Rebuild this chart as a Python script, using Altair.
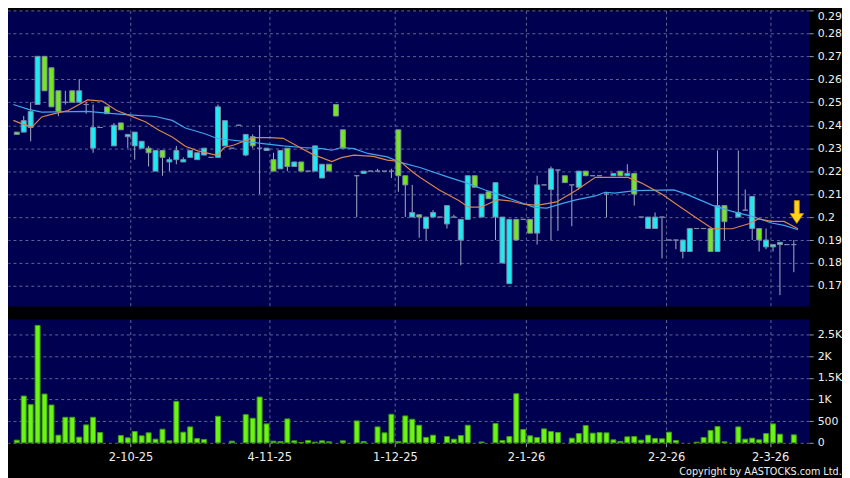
import altair as alt
import pandas as pd

# ---------------- data ----------------
opens = [0.237, 0.237, 0.239, 0.249, 0.270, 0.265, 0.255, 0.250, 0.255, 0.250,
         0.249, 0.230, 0.239, 0.248, 0.231, 0.241, 0.235, 0.231, 0.230, 0.230,
         0.220, 0.229, 0.224, 0.225, 0.224, 0.226, 0.225, 0.227, 0.226, 0.226,
         0.231, 0.230, 0.240, 0.227, 0.235, 0.230, 0.229, 0.225, 0.221, 0.230,
         0.222, 0.224, 0.220, 0.220, 0.217, 0.223, 0.249, 0.238, None, 0.218,
         0.219, 0.220, 0.220, 0.220, 0.220, 0.238, 0.218, 0.200, 0.201, 0.195,
         0.200, 0.200, 0.197, 0.200, 0.190, 0.199, 0.218, 0.200, 0.211, 0.200,
         0.180, 0.171, 0.199, 0.199, 0.199, 0.193, 0.214, 0.212, 0.2205, 0.218,
         0.214, 0.213, 0.220, 0.218, 0.218, 0.210, 0.218, 0.220, 0.218, 0.219,
         0.200, 0.195, 0.195, 0.200, 0.190, 0.190, 0.185, 0.185, 0.195, 0.195,
         0.195, 0.185, 0.205, None, 0.200, 0.203, 0.195, 0.195, 0.187, 0.187,
         0.188, 0.188, 0.188]
highs = [0.237, 0.244, 0.250, 0.270, 0.270, 0.265, 0.255, 0.255, 0.255, 0.260,
         0.250, 0.249, 0.239, 0.248, 0.241, 0.241, 0.236, 0.237, 0.233, 0.231,
         0.229, 0.229, 0.226, 0.231, 0.226, 0.229, 0.228, 0.230, 0.226, 0.249,
         0.242, 0.230, 0.240, 0.236, 0.236, 0.240, 0.230, 0.228, 0.229, 0.230,
         0.224, 0.224, 0.220, 0.231, 0.223, 0.223, 0.249, 0.238, None, 0.218,
         0.220, 0.220, 0.221, 0.220, 0.221, 0.238, 0.218, 0.214, 0.201, 0.200,
         0.203, 0.200, 0.205, 0.201, 0.199, 0.218, 0.218, 0.210, 0.211, 0.215,
         0.200, 0.199, 0.199, 0.199, 0.199, 0.218, 0.214, 0.222, 0.2205, 0.218,
         0.214, 0.220, 0.220, 0.218, 0.218, 0.211, 0.219, 0.220, 0.223, 0.219,
         0.200, 0.200, 0.202, 0.200, 0.190, 0.190, 0.190, 0.195, 0.195, 0.195,
         0.195, 0.229, 0.205, None, 0.229, 0.212, 0.209, 0.195, 0.195, 0.188,
         0.189, 0.188, 0.190]
lows = [0.236, 0.237, 0.233, 0.249, 0.255, 0.248, 0.244, 0.249, 0.250, 0.250,
        0.245, 0.228, 0.239, 0.245, 0.231, 0.238, 0.230, 0.225, 0.230, 0.222,
        0.220, 0.218, 0.220, 0.223, 0.224, 0.226, 0.225, 0.227, 0.226, 0.226,
        0.231, 0.230, 0.240, 0.2265, 0.230, 0.210, 0.229, 0.220, 0.221, 0.220,
        0.222, 0.220, 0.220, 0.220, 0.217, 0.220, 0.244, 0.230, None, 0.200,
        0.219, 0.220, 0.220, 0.220, 0.217, 0.211, 0.200, 0.200, 0.191, 0.190,
        0.200, 0.200, 0.195, 0.200, 0.179, 0.199, 0.213, 0.200, 0.208, 0.190,
        0.180, 0.171, 0.190, 0.199, 0.193, 0.188, 0.214, 0.190, 0.194, 0.215,
        0.196, 0.212, 0.218, 0.218, 0.218, 0.200, 0.218, 0.218, 0.218, 0.205,
        0.200, 0.195, 0.195, 0.182, 0.190, 0.186, 0.182, 0.185, 0.195, 0.195,
        0.185, 0.185, 0.190, None, 0.200, 0.203, 0.190, 0.185, 0.186, 0.185,
        0.166, 0.188, 0.176]
closes = [0.236, 0.242, 0.246, 0.270, 0.255, 0.248, 0.246, 0.250, 0.250, 0.255,
          0.249, 0.239, 0.239, 0.245, 0.240, 0.238, 0.236, 0.237, 0.233, 0.228,
          0.229, 0.226, 0.225, 0.229, 0.225, 0.229, 0.228, 0.230, 0.226, 0.248,
          0.242, 0.230, 0.240, 0.236, 0.231, 0.230, 0.230, 0.220, 0.229, 0.222,
          0.224, 0.220, 0.220, 0.231, 0.223, 0.220, 0.244, 0.230, None, 0.218,
          0.220, 0.220, 0.220, 0.220, 0.220, 0.218, 0.214, 0.202, 0.200, 0.200,
          0.202, 0.200, 0.205, 0.200, 0.199, 0.218, 0.213, 0.210, 0.208, 0.215,
          0.200, 0.199, 0.190, 0.199, 0.193, 0.214, 0.214, 0.221, 0.2205, 0.215,
          0.214, 0.220, 0.218, 0.218, 0.218, 0.210, 0.219, 0.218, 0.219, 0.210,
          0.200, 0.200, 0.200, 0.200, 0.190, 0.190, 0.190, 0.195, 0.195, 0.195,
          0.185, 0.205, 0.198, None, 0.202, 0.203, 0.209, 0.190, 0.190, 0.188,
          0.189, 0.188, 0.188]
volumes = [61, 1079, 880, 2708, 1125, 872, 176, 589, 589, 130,
           413, 589, 237, 0, 0, 168, 115, 260, 161, 230,
           84, 314, 46, 956, 245, 367, 99, 77, 0, 612,
           0, 38, 0, 650, 566, 1056, 436, 38, 31, 551,
           46, 8, 54, 15, 46, 23, 0, 46, 0, 505,
           31, 0, 367, 230, 658, 31, 620, 543, 405, 125,
           176, 0, 145, 84, 168, 405, 0, 20, 0, 444,
           54, 145, 1132, 306, 161, 122, 321, 260, 237, 0,
           107, 214, 398, 222, 237, 230, 69, 31, 138, 145,
           61, 176, 99, 92, 245, 54, 0, 0, 15, 122,
           283, 375, 23, 0, 367, 84, 107, 69, 214, 436,
           199, 0, 184]

# moving-average lines (orange = short, blue = long), read at sample points
ma_short_idx = [-0.5, 0.7, 2.2, 3.6, 5.0, 7.4, 10.2, 12.3, 14.4, 16.2, 18.6, 20.5,
                22.4, 24.3, 26.1, 28.1, 28.9, 29.9, 31.3, 34.1, 36.5, 38.4, 40.8,
                42.6, 45.4, 46.8, 48.6, 51.4, 53.4, 55.3, 57.1, 58.1, 60.9, 63.7,
                65.1, 66.9, 69.3, 71.2, 73.1, 75.0, 77.8, 80.6, 83.4, 85.3, 88.1,
                90.0, 92.9, 95.7, 98.5, 100.3, 103.1, 105.5, 106.9, 108.8, 110.6, 112.6]
ma_short_val = [0.2421, 0.2407, 0.2392, 0.2436, 0.2447, 0.2464, 0.2510, 0.2505,
                0.2464, 0.2443, 0.2414, 0.2378, 0.2349, 0.2308, 0.2288, 0.2274,
                0.2269, 0.2303, 0.2314, 0.2346, 0.2346, 0.2343, 0.2303, 0.2274,
                0.2242, 0.2259, 0.2270, 0.2264, 0.2248, 0.2242, 0.2195, 0.2173,
                0.2118, 0.2072, 0.2043, 0.2043, 0.2076, 0.2070, 0.2056, 0.2051,
                0.2066, 0.2116, 0.2173, 0.2173, 0.2173, 0.2149, 0.2101, 0.2043,
                0.1985, 0.1949, 0.1949, 0.1971, 0.1992, 0.1981, 0.1981, 0.1949]
ma_long_idx = [-0.5, 1.7, 3.6, 10.2, 13.0, 16.2, 20.0, 22.4, 24.3, 27.1, 28.9, 29.9,
               32.7, 35.5, 38.4, 41.2, 44.0, 45.4, 46.8, 48.6, 50.6, 53.4, 55.3,
               58.1, 62.3, 64.7, 67.5, 69.3, 72.2, 74.6, 76.4, 78.8, 80.6, 83.4,
               84.8, 86.2, 89.1, 94.7, 96.5, 100.3, 103.1, 106.0, 108.8, 110.6, 112.6]
ma_long_val = [0.2490, 0.2469, 0.2457, 0.2460, 0.2453, 0.2445, 0.2438, 0.2421,
               0.2388, 0.2363, 0.2342, 0.2339, 0.2330, 0.2320, 0.2310, 0.2303,
               0.2298, 0.2291, 0.2303, 0.2298, 0.2277, 0.2262, 0.2238, 0.2216,
               0.2173, 0.2150, 0.2118, 0.2101, 0.2068, 0.2042, 0.2039, 0.2061,
               0.2075, 0.2092, 0.2108, 0.2104, 0.2115, 0.2118, 0.2100, 0.2051,
               0.2025, 0.2003, 0.1974, 0.1964, 0.1945]

signal_idx = [112]
signal_price = [0.2022]

date_ticks = [16.4, 36.4, 54.5, 73.4, 93.6, 108.6]
date_labels = ["2-10-25", "4-11-25", "1-12-25", "2-1-26", "2-2-26", "2-3-26"]
price_ticks = [0.17, 0.18, 0.19, 0.20, 0.21, 0.22, 0.23, 0.24, 0.25, 0.26, 0.27, 0.28, 0.29]
vol_ticks = [0, 500, 1000, 1500, 2000, 2500]
vol_labels = ["0", "500", "1K", "1.5K", "2K", "2.5K"]

# ---------------- tables ----------------
rows = []
for i in range(len(opens)):
    if opens[i] is None:
        continue
    o, h, l, c = opens[i], highs[i], lows[i], closes[i]
    d = "up" if c > o else ("down" if c < o else "flat")
    rows.append(dict(idx=i, open=o, high=h, low=l, close=c, dir=d))
candles = pd.DataFrame(rows)
vol_df = pd.DataFrame({"idx": list(range(len(volumes))), "vol": volumes})
vol_df = vol_df[vol_df["vol"] > 0]
ma_short = pd.DataFrame({"idx": ma_short_idx, "val": ma_short_val})
ma_long = pd.DataFrame({"idx": ma_long_idx, "val": ma_long_val})
signal = pd.DataFrame({"idx": signal_idx, "price": signal_price})

# ---------------- styling ----------------
BG = "#000000"
PLOT_BG = "#000050"
GRID = "#5E6696"
LABEL = "#EEEEEE"
FONT = "DejaVu Sans"
UP = "#1FEAF2"
DOWN = "#74E81C"
FLAT = "#9AA4BC"
EDGE = "#7C8AA6"
WICK = "#A6AEC4"

xscale = alt.Scale(domain=[-0.55, 113.5], nice=False, zero=False)
pscale = alt.Scale(domain=[0.161, 0.29], nice=False, zero=False)
vscale = alt.Scale(domain=[0, 2844], nice=False, zero=False)


def label_expr(values, labels):
    expr = "''"
    for v, lab in reversed(list(zip(values, labels))):
        expr = f"abs(datum.value - {v}) < 0.01 ? '{lab}' : ({expr})"
    return expr


x_axis_price = alt.Axis(values=date_ticks, labels=False, ticks=False, domain=False,
                        grid=True, gridColor=GRID, gridDash=[3, 3], gridWidth=1, title=None)
x_axis_vol = alt.Axis(values=date_ticks, labelExpr=label_expr(date_ticks, date_labels),
                      domain=False, grid=True, gridColor=GRID, gridDash=[3, 3], gridWidth=1,
                      ticks=True, tickColor="#9098B0", tickSize=4, labelColor=LABEL,
                      labelFont=FONT, labelFontSize=11.5, labelPadding=5, title=None)
y_axis_price = alt.Axis(orient="right", values=price_ticks, format=".2~f", domain=False,
                        grid=True, gridColor=GRID, gridDash=[3, 3], gridWidth=1,
                        tickColor="#9098B0", tickSize=4, labelColor=LABEL, labelFont=FONT,
                        labelFontSize=11, labelPadding=4, labelFlush=True, title=None)
y_axis_vol = alt.Axis(orient="right", values=vol_ticks,
                      labelExpr=label_expr(vol_ticks, vol_labels), domain=False,
                      grid=True, gridColor=GRID, gridDash=[3, 3], gridWidth=1,
                      tickColor="#9098B0", tickSize=4, labelColor=LABEL, labelFont=FONT,
                      labelFontSize=11, labelPadding=4, title=None)

XP = alt.X("idx:Q", scale=xscale, axis=x_axis_price)


def YP(field):
    return alt.Y(f"{field}:Q", scale=pscale, axis=y_axis_price)


wicks = alt.Chart(candles).mark_rule(color=WICK, strokeWidth=1).encode(
    x=XP, y=YP("low"), y2="high:Q")

bodies = alt.Chart(candles).mark_bar(size=5, stroke=EDGE, strokeWidth=1).encode(
    x=XP, y=YP("open"), y2="close:Q",
    fill=alt.Fill("dir:N", scale=alt.Scale(domain=["up", "down", "flat"],
                                            range=[UP, DOWN, FLAT]), legend=None))

line_short = alt.Chart(ma_short).mark_line(color="#D8844E", strokeWidth=1.2).encode(
    x=XP, y=YP("val"))
line_long = alt.Chart(ma_long).mark_line(color="#3FA6EC", strokeWidth=1.2).encode(
    x=XP, y=YP("val"))

ARROW = "M-0.22,-1 L0.22,-1 L0.22,0.13 L0.6,0.13 L0,1 L-0.6,0.13 L-0.22,0.13 Z"
arrow = alt.Chart(signal).mark_point(shape=ARROW, size=529, filled=True, fill="#FFD21F",
                                     stroke="#C08A00", strokeWidth=0.8, opacity=1,
                                     xOffset=3).encode(x=XP, y=YP("price"))

price_panel = alt.layer(wicks, bodies, line_long, line_short, arrow).properties(
    width=806, height=298)

vol_panel = alt.Chart(vol_df).mark_bar(size=5, fill="#6CF514", stroke="#3E9A12",
                                       strokeWidth=1).encode(
    x=alt.X("idx:Q", scale=xscale, axis=x_axis_vol),
    y=alt.Y("vol:Q", scale=vscale, axis=y_axis_vol),
).properties(width=806, height=124)

chart = alt.vconcat(price_panel, vol_panel, spacing=13).properties(
    background=BG,
    padding=0,
    title=alt.TitleParams("Copyright by AASTOCKS.com Ltd.", orient="bottom", anchor="end",
                          font="Liberation Sans Narrow, DejaVu Sans Condensed, DejaVu Sans",
                          fontSize=10.8, fontWeight="normal", color=LABEL, offset=3),
).configure_view(fill=PLOT_BG, strokeWidth=0)

chart.save("out.html", embed_options={"renderer": "svg", "actions": False})
